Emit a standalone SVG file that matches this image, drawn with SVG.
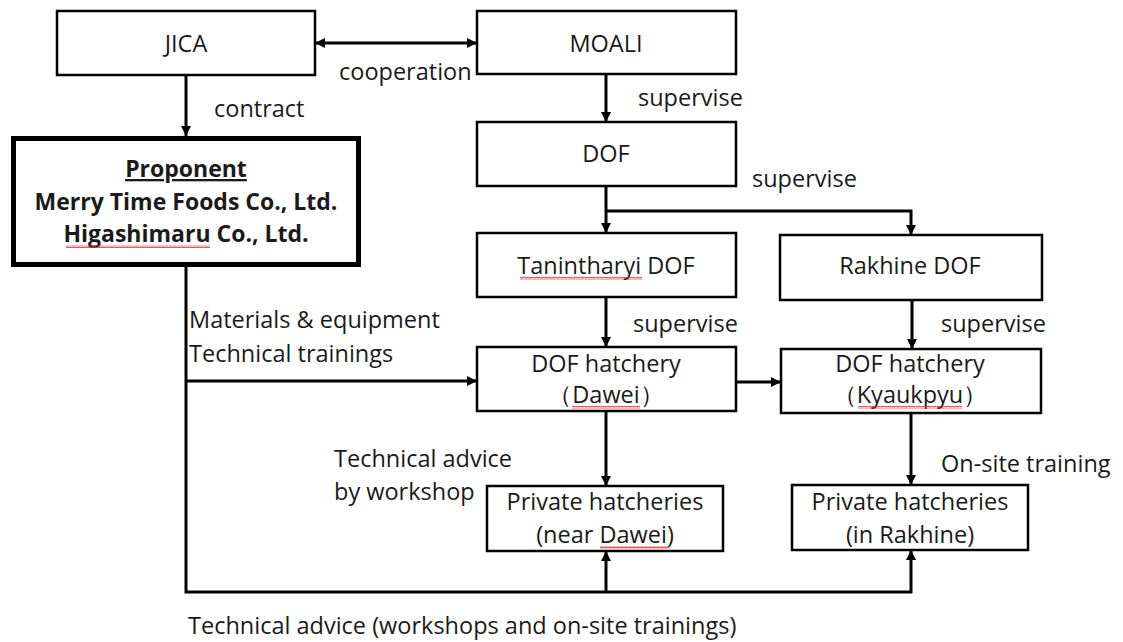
<svg xmlns="http://www.w3.org/2000/svg" width="1123" height="642" viewBox="0 0 1123 642">
<style>
.box{fill:#fff;stroke:#000;stroke-width:2.5}
.bold{fill:#fff;stroke:#000;stroke-width:5}
.t{font-family:"Open Sans","Liberation Sans",sans-serif;font-size:23.5px;fill:#1a1a1a}
.c{text-anchor:middle}
.b{font-weight:bold;font-size:23px}
.ln{fill:none;stroke:#000;stroke-width:3}
.sq{fill:url(#wave)}
</style>
<defs>
<marker id="ah" viewBox="0 0 10 10" refX="10" refY="5" markerWidth="11" markerHeight="10" markerUnits="userSpaceOnUse" orient="auto-start-reverse">
<path d="M0,0 L10,5 L0,10 z" fill="#000"/>
</marker>
<pattern id="wave" width="4" height="3" patternUnits="userSpaceOnUse">
<path d="M0,2.5 L1,0.5 L2,2.5 L3,0.5 L4,2.5" fill="none" stroke="#e03030" stroke-width="0.8"/>
</pattern>
</defs>
<g id="connectors">
<line class="ln" x1="315" y1="43" x2="477" y2="43" marker-start="url(#ah)" marker-end="url(#ah)"/>
<line class="ln" x1="186" y1="75" x2="186" y2="136" marker-end="url(#ah)"/>
<line class="ln" x1="606" y1="74" x2="606" y2="122" marker-end="url(#ah)"/>
<line class="ln" x1="606" y1="186" x2="606" y2="233" marker-end="url(#ah)"/>
<path class="ln" d="M606,211 H911 V235" marker-end="url(#ah)"/>
<line class="ln" x1="606" y1="297" x2="606" y2="347" marker-end="url(#ah)"/>
<line class="ln" x1="912" y1="300" x2="912" y2="349" marker-end="url(#ah)"/>
<path class="ln" d="M186,267 V592 H911 V550" marker-end="url(#ah)"/>
<line class="ln" x1="186" y1="381" x2="477" y2="381" marker-end="url(#ah)"/>
<line class="ln" x1="606" y1="592" x2="606" y2="551" marker-end="url(#ah)"/>
<line class="ln" x1="736" y1="382" x2="781" y2="382" marker-end="url(#ah)"/>
<line class="ln" x1="606" y1="411" x2="606" y2="486" marker-end="url(#ah)"/>
<line class="ln" x1="911" y1="413" x2="911" y2="485" marker-end="url(#ah)"/>
</g>
<g id="labels">
<text class="t" x="339" y="80">cooperation</text>
<text class="t" x="214" y="117">contract</text>
<text class="t" x="638" y="106">supervise</text>
<text class="t" x="752" y="187">supervise</text>
<text class="t" x="633" y="332">supervise</text>
<text class="t" x="941" y="332">supervise</text>
<text class="t" x="189" y="328">Materials &amp; equipment</text>
<text class="t" x="189" y="362">Technical trainings</text>
<text class="t" x="334" y="467">Technical advice</text>
<text class="t" x="334" y="500">by workshop</text>
<text class="t" x="941" y="472">On-site training</text>
<text class="t" x="188" y="634">Technical advice (workshops and on-site trainings)</text>
</g>
<g id="jica">
<rect class="box" x="57" y="11" width="258" height="64"/>
<text class="t c" x="186" y="52">JICA</text>
</g>
<g id="moali">
<rect class="box" x="477" y="11" width="259" height="63"/>
<text class="t c" x="606" y="52">MOALI</text>
</g>
<g id="proponent">
<rect class="bold" x="13.5" y="138.5" width="345" height="126"/>
<text class="t c b" x="186" y="177" text-decoration="underline">Proponent</text>
<text class="t c b" x="186" y="210">Merry Time Foods Co., Ltd.</text>
<text class="t c b" x="186" y="242">Higashimaru Co., Ltd.</text>
<rect class="sq" x="66" y="245" width="144" height="3"/>
</g>
<g id="dof">
<rect class="box" x="477" y="122" width="259" height="64"/>
<text class="t c" x="606" y="162">DOF</text>
</g>
<g id="tanintharyi">
<rect class="box" x="477" y="233" width="259" height="64"/>
<text class="t c" x="606" y="274">Tanintharyi DOF</text>
<rect class="sq" x="520" y="277" width="122" height="3"/>
</g>
<g id="rakhine">
<rect class="box" x="780" y="235" width="262" height="65"/>
<text class="t c" x="910" y="274">Rakhine DOF</text>
</g>
<g id="dawei">
<rect class="box" x="477" y="347" width="259" height="64"/>
<text class="t c" x="606" y="372">DOF hatchery</text>
<text class="t c" x="606" y="403">（Dawei）</text>
<rect class="sq" x="572" y="406" width="68" height="3"/>
</g>
<g id="kyaukpyu">
<rect class="box" x="781" y="349" width="260" height="64"/>
<text class="t c" x="910" y="372">DOF hatchery</text>
<text class="t c" x="910" y="403">（Kyaukpyu）</text>
<rect class="sq" x="858" y="406" width="104" height="3"/>
</g>
<g id="private-dawei">
<rect class="box" x="487" y="486" width="236" height="65"/>
<text class="t c" x="605" y="510">Private hatcheries</text>
<text class="t c" x="605" y="543">(near Dawei)</text>
<rect class="sq" x="600" y="546" width="69" height="3"/>
</g>
<g id="private-rakhine">
<rect class="box" x="792" y="485" width="236" height="65"/>
<text class="t c" x="910" y="510">Private hatcheries</text>
<text class="t c" x="910" y="543">(in Rakhine)</text>
</g>
</svg>
